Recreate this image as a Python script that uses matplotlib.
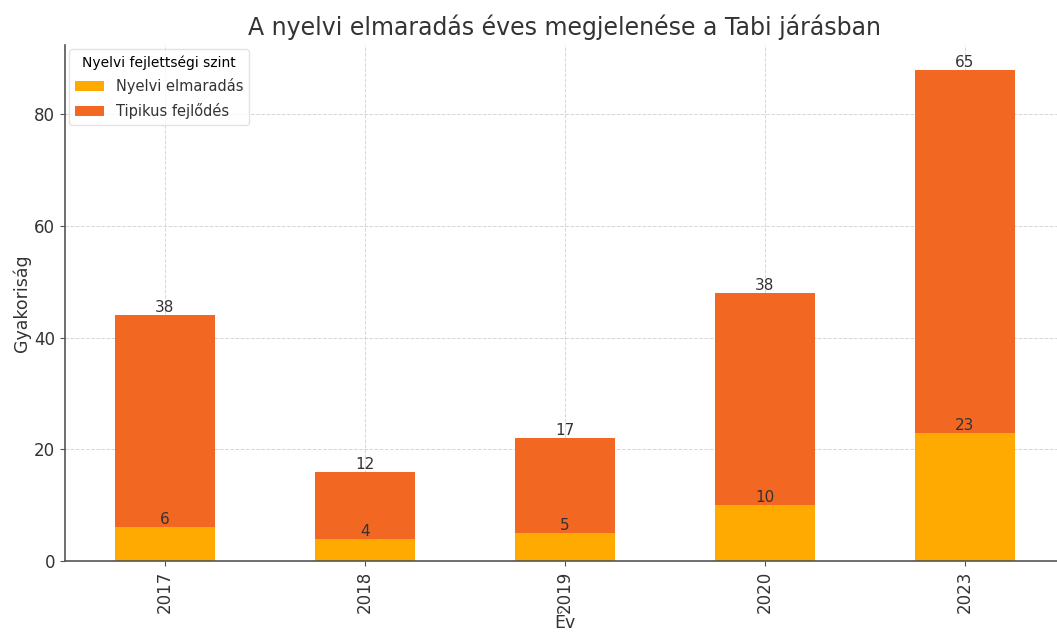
import matplotlib
matplotlib.use('Agg')
import matplotlib.pyplot as plt
import numpy as np

years = ['2017', '2018', '2019', '2020', '2023']
elmaradas = [6, 4, 5, 10, 23]
tipikus = [38, 12, 17, 38, 65]

c_elm = '#FFAA00'
c_tip = '#F26722'
txt = '#333333'

plt.rcParams['font.family'] = ['DejaVu Sans']

fig = plt.figure(figsize=(10.57, 6.32), dpi=100)
ax = fig.add_axes([65 / 1057, 1 - 561 / 632, 1000 / 1057, (561 - 45) / 632])

x = np.arange(len(years))
ax.bar(x, elmaradas, width=0.5, color=c_elm, label='Nyelvi elmaradás', zorder=2)
ax.bar(x, tipikus, width=0.5, bottom=elmaradas, color=c_tip,
       label='Tipikus fejlődés', zorder=2)

# labels sit on top edge of each segment
for i in range(len(years)):
    ax.text(x[i], elmaradas[i], str(elmaradas[i]), ha='center', va='bottom',
            fontsize=11, color=txt, zorder=3)
    ax.text(x[i], elmaradas[i] + tipikus[i], str(tipikus[i]), ha='center',
            va='bottom', fontsize=11, color=txt, zorder=3)

ax.set_xlim(-0.5, len(years) - 0.5)
ax.set_ylim(0, 92.4)
ax.set_xticks(x)
ax.set_xticklabels(years, rotation=90, fontsize=12, color=txt)
ax.set_yticks([0, 20, 40, 60, 80])
ax.tick_params(axis='y', labelsize=12, labelcolor=txt, color='#555555')
ax.tick_params(axis='x', color='#555555')

ax.grid(True, linestyle='--', color='#cccccc', linewidth=0.7, alpha=0.8, zorder=0)
ax.set_axisbelow(True)

for s in ['top', 'right']:
    ax.spines[s].set_visible(False)
for s in ['left', 'bottom']:
    ax.spines[s].set_color('#555555')
    ax.spines[s].set_linewidth(1.2)

ax.set_title('A nyelvi elmaradás éves megjelenése a Tabi járásban',
             fontsize=17, color=txt, pad=7)
ax.set_xlabel('Év', fontsize=12.5, color=txt, labelpad=1)
ax.set_ylabel('Gyakoriság', fontsize=12.5, color=txt, labelpad=2)

leg = ax.legend(title='Nyelvi fejlettségi szint', loc='upper left',
                fontsize=10.5, title_fontsize=10, frameon=True, labelcolor=txt,
                borderaxespad=0.3, labelspacing=0.6)
leg.get_frame().set_edgecolor('#dddddd')

fig.savefig('out.png', dpi=100)
